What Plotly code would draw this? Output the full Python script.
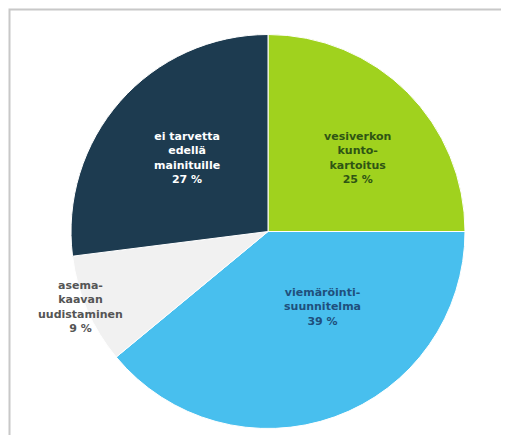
import plotly.graph_objects as go

labels = ["vesiverkon kunto-kartoitus", "viemäröinti-suunnitelma", "asemakaavan uudistaminen", "ei tarvetta edellä mainituille"]
label_text = ["vesiverkon<br>kunto-<br>kartoitus", "viemäröinti-<br>suunnitelma", "asema-<br>kaavan<br>uudistaminen", "ei tarvetta<br>edellä<br>mainituille"]
values = [25, 39, 9, 27]
colors = ["#a0d21e", "#48bfee", "#f1f1f1", "#1d3b50"]
text_colors = ["#2f5514", "#1f4f7c", "#555555", "#ffffff"]
# label centres in pixels within the figure (x from left, y from top)
label_pos = [(349, 150), (314, 299), (72, 299), (179, 150)]

W, H = 509, 435
cx, cy, r = 260, 223.5, 197

fig = go.Figure(go.Pie(
    labels=labels, values=values, sort=False, direction="clockwise", rotation=0,
    marker=dict(colors=colors, line=dict(color="#ffffff", width=1)),
    textinfo="none", hoverinfo="label+percent", showlegend=False,
    domain=dict(x=[(cx - r) / W, (cx + r) / W], y=[(H - cy - r) / H, (H - cy + r) / H]),
))

for t, v, c, (px, py) in zip(label_text, values, text_colors, label_pos):
    fig.add_annotation(x=px / W, y=1 - py / H, xref="paper", yref="paper",
                       text=f"<b>{t}<br>{v} %</b>", showarrow=False,
                       font=dict(family="DejaVu Sans", size=11, color=c),
                       align="center", xanchor="center", yanchor="middle")

fig.add_shape(type="rect", xref="paper", yref="paper",
              x0=1.5 / W, x1=1.02, y0=-0.02, y1=1 - 1.5 / H,
              line=dict(color="#c8c8c8", width=2), layer="below")

fig.update_layout(width=W, height=H, margin=dict(l=0, r=0, t=0, b=0),
                  paper_bgcolor="#ffffff", plot_bgcolor="#ffffff")
fig.write_html("out.html")
